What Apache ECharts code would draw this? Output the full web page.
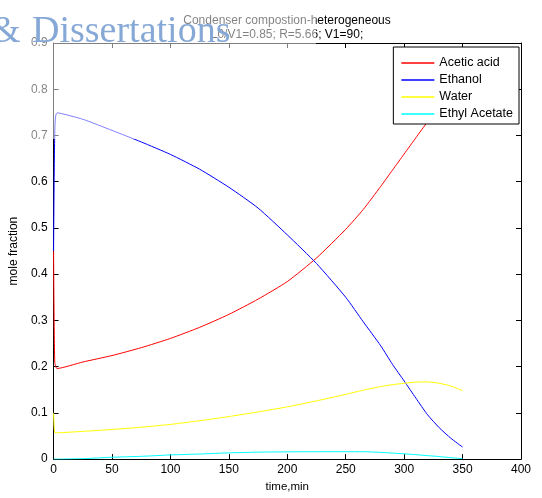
<!DOCTYPE html>
<html>
<head>
<meta charset="utf-8">
<script src="https://cdn.jsdelivr.net/npm/echarts@6/dist/echarts.min.js"></script>
<style>html,body{margin:0;padding:0;background:#fff}#c{width:542px;height:498px}</style>
</head>
<body>
<div id="c"></div>
<script>
const time = [0, 1, 3, 25, 50, 75, 100, 125, 150, 175, 200, 225, 250, 265, 280, 290, 300, 310, 320, 330, 340, 350];
const aceticAcid = [0.45, 0.21, 0.196, 0.21, 0.224, 0.241, 0.261, 0.285, 0.313, 0.346, 0.384, 0.435, 0.497, 0.54, 0.59, 0.625, 0.66, 0.695, 0.73, 0.77, 0.81, 0.85];
const ethanol = [0.45, 0.70, 0.749, 0.735, 0.711, 0.686, 0.659, 0.627, 0.588, 0.543, 0.485, 0.423, 0.35, 0.297, 0.245, 0.205, 0.169, 0.132, 0.096, 0.068, 0.045, 0.026];
const water = [0.1, 0.057, 0.057, 0.06, 0.064, 0.069, 0.075, 0.083, 0.092, 0.102, 0.113, 0.126, 0.14, 0.149, 0.157, 0.161, 0.164, 0.1665, 0.167, 0.164, 0.158, 0.148];
const ethylAcetate = [0, 0, 0, 0.001, 0.004, 0.006, 0.009, 0.011, 0.0135, 0.015, 0.0157, 0.016, 0.016, 0.016, 0.0145, 0.013, 0.0115, 0.0095, 0.0075, 0.0055, 0.003, 0.001];
const xTicks = {min: 0, max: 400, interval: 50};
const yTicks = {min: 0, max: 0.9, interval: 0.1};
const seriesNames = ['Acetic acid', 'Ethanol', 'Water', 'Ethyl Acetate'];
const seriesColors = ['#ff0000', '#0000ff', '#ffff00', '#00ffff'];
const titleText = 'Condenser compostion-heterogeneous\nL0/V1=0.85; R=5.66; V1=90;';

const pair = arr => time.map((t, i) => [t, arr[i]]);
const allData = [aceticAcid, ethanol, water, ethylAcetate];
const FONT = 'Liberation Sans, Arial, sans-serif';
const SERIF = 'Liberation Serif, DejaVu Serif, serif';

const chart = echarts.init(document.getElementById('c'));
const axisCommon = {
  axisLine: {show: true, onZero: false, lineStyle: {color: '#000', width: 1}},
  axisTick: {show: true, inside: true, length: 5, lineStyle: {color: '#000'}},
  splitLine: {show: false},
};
chart.setOption({
  animation: false,
  backgroundColor: '#fff',
  title: {
    text: titleText,
    left: 282, textAlign: 'center', top: 9,
    textStyle: {fontFamily: FONT, fontSize: 12, fontWeight: 'normal', color: '#000', lineHeight: 14}
  },
  grid: {left: 53.5, right: 21, top: 43, bottom: 36, containLabel: false},
  legend: {
    orient: 'vertical', right: 23, top: 47,
    data: seriesNames.map(n => ({name: n, icon: 'rect'})),
    backgroundColor: '#fff', borderColor: '#000', borderWidth: 1,
    padding: [9, 6, 3, 8], itemGap: 3, itemWidth: 33, itemHeight: 1.5,
    textStyle: {fontFamily: FONT, fontSize: 12.5, color: '#000', lineHeight: 14, padding: [0, 0, 0, 0]},
    z: 10
  },
  xAxis: [
    Object.assign({type: 'value', position: 'bottom', min: xTicks.min, max: xTicks.max, interval: xTicks.interval,
      name: 'time,min', nameLocation: 'middle', nameGap: 20,
      nameTextStyle: {fontFamily: FONT, fontSize: 11.5, color: '#000'},
      axisLabel: {fontFamily: FONT, fontSize: 12, color: '#000', margin: 5}}, axisCommon),
    Object.assign({type: 'value', position: 'top', min: xTicks.min, max: xTicks.max, interval: xTicks.interval,
      axisLabel: {show: false}}, axisCommon)
  ],
  yAxis: [
    Object.assign({type: 'value', position: 'left', min: yTicks.min, max: yTicks.max, interval: yTicks.interval,
      name: 'mole fraction', nameLocation: 'middle', nameGap: 26,
      nameTextStyle: {fontFamily: FONT, fontSize: 12, color: '#000'},
      axisLabel: {fontFamily: FONT, fontSize: 12, color: '#000', margin: 6,
        formatter: v => String(Math.round(v * 10) / 10)}}, axisCommon),
    Object.assign({type: 'value', position: 'right', min: yTicks.min, max: yTicks.max, interval: yTicks.interval,
      axisLabel: {show: false}}, axisCommon)
  ],
  series: seriesNames.map((n, i) => ({
    name: n, type: 'line', data: pair(allData[i]), symbol: 'none', smooth: 0.2,
    lineStyle: {color: seriesColors[i], width: 1}, itemStyle: {color: seriesColors[i]},
    z: 2 + i
  })),
  graphic: [
    {type: 'rect', shape: {x: 0, y: 0, width: 316, height: 139}, style: {fill: 'rgba(255,255,255,0.5)'}, z: 100, silent: true},
    {type: 'text', x: -9, y: 13, z: 101, silent: true,
      style: {text: '&', fontFamily: SERIF, fontSize: 38, fill: '#86a8d6', textVerticalAlign: 'top'}},
    {type: 'text', x: 32, y: 13, z: 101, silent: true,
      style: {text: 'Dissertations', fontFamily: SERIF, fontSize: 38, fill: '#86a8d6', textVerticalAlign: 'top'}}
  ]
});
</script>
</body>
</html>
